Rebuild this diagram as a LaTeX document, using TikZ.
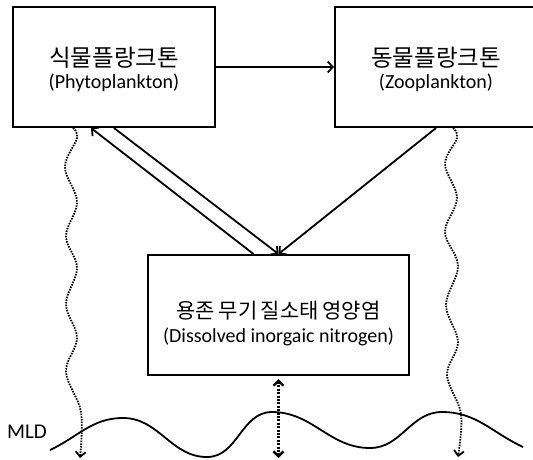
\documentclass[tikz,border=0pt]{standalone}
\usepackage{fontspec}
\setmainfont{Carlito}
\newfontfamily\kr[WordSpace=0.75]{Noto Sans CJK KR}
\usetikzlibrary{arrows.meta}

\tikzstyle{box}=[draw, line width=2pt, minimum height=120pt, align=center, font=\fontsize{20}{22}\selectfont, text height=47pt, text depth=5pt]
\tikzstyle{flow}=[line width=1.8pt, -{Straight Barb[length=5pt,width=11pt]}]
\tikzstyle{drift}=[line width=1.8pt, dash pattern=on 1.5pt off 1.2pt, -{Straight Barb[length=5pt,width=10pt]}]
\tikzstyle{mixing}=[line width=2.4pt, dash pattern=on 2pt off 1.4pt, shorten <=3pt, {Straight Barb[length=5pt,width=10pt]}-{Straight Barb[length=5pt,width=10pt]}]
\tikzstyle{mld}=[line width=1.8pt]

\begin{document}
\begin{tikzpicture}[x=1pt, y=-1pt]
	\useasboundingbox (0,0) rectangle (533,459);

	\node[box, minimum width=202pt] (phyto) at (114,67) {{\kr\fontsize{23.5}{22}\selectfont 식물플랑크톤}\\(Phytoplankton)};
	\node[box, minimum width=202pt] (zoo) at (436,67) {{\kr\fontsize{23.5}{22}\selectfont 동물플랑크톤}\\(Zooplankton)};
	\node[box, minimum width=261pt, font=\fontsize{20}{24}\selectfont, text height=59pt] (din) at (278.5,315) {{\kr\fontsize{21}{24}\selectfont 용존 무기 질소태 영양염}\\(Dissolved inorgaic nitrogen)};

	\coordinate (phytosink) at (80,458);
	\coordinate (zoosink) at (458,457);
	\coordinate (dinmix) at (din.south |- 0,458);

	% grazing and nutrient cycling
	\draw[flow] (phyto) -- (zoo);
	\draw[flow] (phyto.south) -- (din.north);
	\draw[flow] (zoo.south) -- (din.north);
	\draw[flow] ([xshift=-25pt]din.north) -- ([xshift=-23pt]phyto.south);

	% sinking and vertical mixing
	\draw[drift] plot[smooth, tension=0.6] coordinates {([xshift=-41pt]phyto.south) (77,138) (65,167) (77,202) (66,236)
		(77,268) (66,304) (77,338) (66,372) (81,412) (phytosink)};
	\draw[drift] plot[smooth, tension=0.6] coordinates {([xshift=17pt]zoo.south) (457,138) (445,164) (457,198) (445,232)
		(458,266) (446,305) (458,342) (447,375) (461,414) (zoosink)};
	\draw[mixing] (din.south) -- (dinmix);

	% mixed layer depth
	\node[font=\fontsize{21}{24}\selectfont] (mldlabel) at (27,432) {MLD};
	\draw[mld] (50,450) to[out=25,in=180] (123,418) to[out=0,in=180] (207,457)
		to[out=0,in=180] (272,412) to[out=0,in=180] (370,448)
		to[out=0,in=180] (442,412) to[out=0,in=155] (523,447);
\end{tikzpicture}
\end{document}
